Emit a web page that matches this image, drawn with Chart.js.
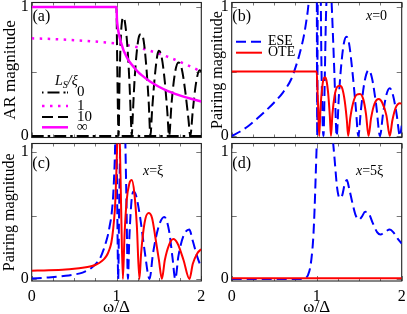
<!DOCTYPE html>
<html><head><meta charset="utf-8">
<script src="https://cdn.jsdelivr.net/npm/chart.js@4.4.1/dist/chart.umd.min.js"></script>
<style>
html,body{margin:0;padding:0;background:#fff;}
#wrap{position:relative;width:407px;height:314px;overflow:hidden;background:#fff;}
canvas{position:absolute;}
</style></head><body>
<div id="wrap">
<canvas id="ca" width="207" height="142" style="left:0;top:0"></canvas>
<canvas id="cb" width="207" height="142" style="left:200px;top:0"></canvas>
<canvas id="cc" width="207" height="174" style="left:0;top:140px"></canvas>
<canvas id="cd" width="207" height="174" style="left:200px;top:140px"></canvas>
</div>
<script>
// ---------- Panel (a): AR magnitude ----------
const omegaA_L0 = [0, 2];
const arL0 = [0, 0];
const omegaA_L1 = [0, 0.25, 0.5, 0.75, 1, 1.2, 1.4, 1.6, 1.8, 2];
const arL1 = [0.757, 0.752, 0.743, 0.732, 0.717, 0.695, 0.66, 0.615, 0.56, 0.5];
const omegaA_L10 = [0, 1, 1.005, 1.012, 1.02, 1.025, 1.035, 1.05, 1.065, 1.08, 1.1, 1.13, 1.155, 1.175, 1.18, 1.19, 1.21, 1.24, 1.27, 1.29, 1.32, 1.35, 1.38, 1.4, 1.42, 1.45, 1.48, 1.5, 1.53, 1.57, 1.6, 1.62, 1.65, 1.69, 1.73, 1.77, 1.81, 1.85, 1.87, 1.9, 1.94, 1.98, 2];
const arL10 = [1, 1, 0.75, 0.4, 0.08, 0, 0.4, 0.75, 0.89, 0.92, 0.88, 0.68, 0.38, 0.05, 0, 0.13, 0.4, 0.66, 0.78, 0.79, 0.74, 0.55, 0.26, 0, 0.2, 0.45, 0.62, 0.66, 0.62, 0.42, 0.18, 0, 0.26, 0.49, 0.57, 0.52, 0.35, 0.12, 0, 0.2, 0.42, 0.51, 0.5];
const omegaA_Inf = [0, 1, 1.005, 1.01, 1.02, 1.03, 1.04, 1.06, 1.08, 1.1, 1.13, 1.16, 1.2, 1.25, 1.3, 1.4, 1.5, 1.6, 1.7, 1.8, 1.9, 2];
const arInf = [1, 1, 0.905, 0.868, 0.82, 0.785, 0.755, 0.71, 0.67, 0.64, 0.6, 0.57, 0.537, 0.5, 0.47, 0.42, 0.382, 0.35, 0.325, 0.303, 0.285, 0.268];
const legendA = ['0', '1', '10', '\u221E'];

// ---------- Panel (b): x = 0 ----------
const omegaB_ESE = [0, 0.1, 0.2, 0.3, 0.4, 0.5, 0.6, 0.7, 0.75, 0.8, 0.85, 0.88, 0.9, 0.93, 0.96, 0.99, 1, 1.003, 1.006, 1.01, 1.015, 1.03, 1.045, 1.055, 1.07, 1.08, 1.095, 1.11, 1.14, 1.17, 1.19, 1.21, 1.235, 1.26, 1.29, 1.32, 1.35, 1.38, 1.42, 1.46, 1.49, 1.52, 1.56, 1.61, 1.65, 1.7, 1.745, 1.78, 1.82, 1.86, 1.9, 1.94, 1.98, 2];
const eseB = [0, 0.035, 0.08, 0.135, 0.195, 0.26, 0.335, 0.44, 0.53, 0.64, 0.78, 0.9, 1.0, 1.25, 1.6, 2.5, 1.6, 0.6, 0, 0.7, 1.5, 2.0, 1.3, 0.6, 0.1, 0, 0.45, 0.95, 1.25, 1.1, 0.8, 0.45, 0, 0.3, 0.56, 0.72, 0.77, 0.72, 0.5, 0.22, 0, 0.2, 0.41, 0.51, 0.45, 0.24, 0, 0.17, 0.32, 0.37, 0.31, 0.17, 0, 0.08];
const omegaB_OTE = [0, 1, 1.008, 1.018, 1.03, 1.045, 1.065, 1.08, 1.098, 1.115, 1.135, 1.155, 1.168, 1.185, 1.21, 1.24, 1.27, 1.3, 1.33, 1.355, 1.37, 1.395, 1.43, 1.47, 1.51, 1.55, 1.58, 1.61, 1.64, 1.68, 1.73, 1.77, 1.82, 1.86, 1.89, 1.93, 1.98, 2];
const oteB = [0.5, 0.5, 0.38, 0.2, 0, 0.22, 0.38, 0.44, 0.455, 0.43, 0.33, 0.15, 0, 0.17, 0.31, 0.38, 0.39, 0.37, 0.27, 0.12, 0, 0.14, 0.26, 0.32, 0.326, 0.28, 0.17, 0, 0.14, 0.25, 0.287, 0.26, 0.16, 0, 0.12, 0.22, 0.253, 0.25];
const seriesNames = ['ESE', 'OTE'];

// ---------- Panel (c): x = xi ----------
const omegaC_OTE = [0, 0.2, 0.4, 0.5, 0.6, 0.7, 0.75, 0.8, 0.85, 0.88, 0.9, 0.92, 0.94, 0.96, 0.98, 0.99, 1, 1.01, 1.025, 1.04, 1.055, 1.075, 1.095, 1.12, 1.15, 1.18, 1.21, 1.24, 1.27, 1.29, 1.33, 1.378, 1.42, 1.46, 1.5, 1.535, 1.57, 1.62, 1.67, 1.72, 1.79, 1.86, 1.9, 1.95, 2];
const oteC = [0.065, 0.068, 0.074, 0.08, 0.088, 0.1, 0.11, 0.128, 0.155, 0.18, 0.205, 0.24, 0.29, 0.39, 0.54, 0.68, 0.88, 1.1, 1.2, 1.05, 0.55, 0, 0.35, 0.62, 0.75, 0.78, 0.68, 0.42, 0, 0.2, 0.44, 0.52, 0.48, 0.32, 0.15, 0, 0.15, 0.27, 0.315, 0.28, 0.15, 0, 0.12, 0.2, 0.236];
const omegaC_ESE = [0, 0.2, 0.4, 0.5, 0.6, 0.7, 0.75, 0.8, 0.85, 0.88, 0.9, 0.92, 0.94, 0.96, 0.97, 0.98, 0.99, 1, 1.01, 1.02, 1.03, 1.045, 1.07, 1.1, 1.115, 1.135, 1.15, 1.175, 1.2, 1.23, 1.28, 1.33, 1.39, 1.43, 1.5, 1.563, 1.62, 1.66, 1.693, 1.73, 1.79, 1.858, 1.9, 1.95, 2];
const eseC = [0.003, 0.012, 0.025, 0.035, 0.05, 0.085, 0.115, 0.155, 0.235, 0.3, 0.35, 0.42, 0.5, 0.65, 0.78, 0.95, 1.2, 1.1, 0.5, 0, 0.5, 1.1, 1.5, 1.2, 0.7, 0, 0.3, 0.6, 0.69, 0.66, 0.48, 0.23, 0, 0.2, 0.42, 0.49, 0.38, 0.17, 0, 0.18, 0.34, 0.39, 0.3, 0.18, 0.087];

// ---------- Panel (d): x = 5 xi ----------
const omegaD_OTE = [0, 2];
const oteD = [0.005, 0.005];
const omegaD_ESE = [0, 0.8, 0.85, 0.88, 0.9, 0.92, 0.94, 0.96, 0.975, 0.99, 1, 1.05, 1.1, 1.15, 1.19, 1.21, 1.24, 1.27, 1.3, 1.33, 1.355, 1.38, 1.42, 1.46, 1.5, 1.53, 1.57, 1.61, 1.66, 1.71, 1.75, 1.8, 1.86, 1.9, 1.95, 2];
const eseD = [0, 0, 0.002, 0.012, 0.035, 0.08, 0.17, 0.33, 0.55, 0.85, 1.05, 1.5, 1.6, 1.4, 1.1, 0.95, 0.72, 0.64, 0.66, 0.75, 0.78, 0.72, 0.6, 0.5, 0.47, 0.49, 0.53, 0.52, 0.44, 0.37, 0.35, 0.37, 0.39, 0.37, 0.32, 0.28];

// tick labels
const xTickValues = [0, 1, 2];
const yTickValues = [0, 1];

const FONT = '"Liberation Serif", "Times New Roman", serif';
const BLUE = 'rgb(0,0,255)', RED = 'rgb(255,0,0)', MAG = 'rgb(255,0,255)', BLK = '#000';

const pts = (xs, ys) => xs.map((x, i) => ({x: x, y: ys[i]}));
function ds(data, color, width, dash) {
  return {data: data, borderColor: color, backgroundColor: color, borderWidth: width,
    borderDash: dash || [], pointRadius: 0, pointHoverRadius: 0, showLine: true, fill: false,
    cubicInterpolationMode: 'monotone', borderCapStyle: 'butt', borderJoinStyle: 'round'};
}

function line(ctx, x1, y1, x2, y2) { ctx.beginPath(); ctx.moveTo(x1, y1); ctx.lineTo(x2, y2); ctx.stroke(); }
function sample(ctx, x1, x2, y, color, width, dash) {
  ctx.save(); ctx.strokeStyle = color; ctx.lineWidth = width; ctx.setLineDash(dash || []);
  line(ctx, x1, y, x2, y); ctx.restore();
}
function rich(ctx, x, y, parts, baseline) {
  ctx.save(); ctx.textBaseline = baseline || 'alphabetic'; ctx.fillStyle = '#000';
  let cx = x;
  for (const p of parts) {
    ctx.font = (p.i ? 'italic ' : '') + (p.s || 13) + 'px ' + FONT;
    ctx.fillText(p.t, cx, y + (p.dy || 0));
    cx += ctx.measureText(p.t).width;
  }
  ctx.restore();
}

function framePlugin(extra) {
  return {
    id: 'frame',
    beforeDatasetsDraw(chart) {
      const ctx = chart.ctx, a = chart.chartArea, x = chart.scales.x, y = chart.scales.y;
      ctx.save();
      ctx.strokeStyle = '#777'; ctx.lineWidth = 1;
      for (let k = 0; k <= 8; k++) {
        const v = k * 0.25;
        const px = Math.round(x.getPixelForValue(v)) + 0.5;
        const L = (k % 4 === 0) ? 5 : 3;
        line(ctx, px, a.bottom, px, a.bottom - L);
        line(ctx, px, a.top, px, a.top + L);
      }
      for (const v of [0, 0.5, 1]) {
        const py = Math.round(y.getPixelForValue(v)) + 0.5;
        line(ctx, a.left, py, a.left + 5, py);
        line(ctx, a.right, py, a.right - 5, py);
      }
      ctx.strokeStyle = '#222'; ctx.lineWidth = 1.1;
      ctx.strokeRect(a.left, a.top, a.right - a.left, a.bottom - a.top);
      ctx.restore();
    },
    afterDraw(chart) { extra(chart.ctx); }
  };
}

function yScale(min, max, title, tsize, tpad) {
  return {
    type: 'linear', min: min, max: max,
    afterBuildTicks: s => { s.ticks = yTickValues.map(v => ({value: v})); },
    afterFit: s => { s.width = 31.7; s.paddingTop = 0; s.paddingBottom = 0; },
    grid: {display: false, drawTicks: false}, border: {display: false},
    ticks: {padding: 3, color: '#000', font: {family: FONT, size: 16}, callback: v => String(v)},
    title: {display: !!title, text: title || '', color: '#000', font: {family: FONT, size: tsize || 16}, padding: {top: tpad || 0, bottom: 0}}
  };
}
function xScale(show) {
  return {
    type: 'linear', min: 0, max: 2, display: show,
    afterBuildTicks: s => { s.ticks = xTickValues.map(v => ({value: v})); },
    afterFit: s => { if (show) s.height = 33; s.paddingLeft = 0; s.paddingRight = 0; },
    grid: {display: false, drawTicks: false}, border: {display: false},
    ticks: {padding: 6, color: '#000', maxRotation: 0, autoSkip: false, font: {family: FONT, size: 16}, callback: v => String(v)},
    title: {display: show, text: '\u03C9/\u0394', color: '#000', font: {family: FONT, size: 17, lineHeight: 0.8}, padding: {top: 0, bottom: 0}}
  };
}

function makeChart(id, datasets, padding, xs, ys, extra) {
  return new Chart(document.getElementById(id), {
    type: 'scatter',
    data: {datasets: datasets},
    options: {
      responsive: false, animation: false, devicePixelRatio: 1,
      layout: {padding: padding},
      plugins: {legend: {display: false}, tooltip: {enabled: false}},
      events: [],
      scales: {x: xs, y: ys}
    },
    plugins: [framePlugin(extra)]
  });
}

// Panel (a)
makeChart('ca', [
  ds(pts(omegaA_Inf, arInf), MAG, 2.5),
  ds(pts(omegaA_L10, arL10), BLK, 2, [11, 5]),
  ds(pts(omegaA_L1, arL1), MAG, 2.5, [2.5, 5.5]),
  ds(pts(omegaA_L0, arL0), BLK, 2, [12, 4, 2.5, 4])
], {left: 0, top: 2.5, right: 5.7, bottom: 4.5}, xScale(false), yScale(-0.0116, 1.035, 'AR magnitude', 17, 0.6),
ctx => {
  rich(ctx, 32.5, 21, [{t: '(a)', s: 16}]);
  rich(ctx, 55, 84.5, [{t: 'L', i: 1, s: 14}, {t: 'S', i: 1, s: 10, dy: 3}, {t: '/\u03BE', i: 1, s: 14}]);
  const rows = [92.5, 106, 117, 127.3];
  sample(ctx, 42, 68, rows[0], BLK, 2, [1.5, 4, 12, 4, 2]);
  sample(ctx, 42, 68, rows[1], MAG, 2.5, [2.5, 5.5]);
  sample(ctx, 42, 68, rows[2], BLK, 2, [11, 5]);
  sample(ctx, 42, 68, rows[3], MAG, 2.5);
  legendA.forEach((t, i) => rich(ctx, 77, rows[i], [{t: t, s: 15}], 'middle'));
});

// Panel (b)
makeChart('cb', [
  ds(pts(omegaB_OTE, oteB), RED, 2),
  ds(pts(omegaB_ESE, eseB), BLUE, 2, [10, 5])
], {left: 0, top: 2.5, right: 5.3, bottom: 4.5}, xScale(false), yScale(-0.0116, 1.035, 'Pairing magnitude', 16, 7.9),
ctx => {
  rich(ctx, 32.3, 21, [{t: '(b)', s: 16}]);
  rich(ctx, 166, 19.5, [{t: 'x', i: 1, s: 14}, {t: '=0', s: 14}]);
  sample(ctx, 36, 62, 41.7, BLUE, 2, [10, 5]);
  sample(ctx, 36, 62, 52.7, RED, 2);
  rich(ctx, 68, 41.7, [{t: seriesNames[0], s: 14}], 'middle');
  rich(ctx, 68, 52.7, [{t: seriesNames[1], s: 14}], 'middle');
});

// Panel (c)
makeChart('cc', [
  ds(pts(omegaC_OTE, oteC), RED, 2),
  ds(pts(omegaC_ESE, eseC), BLUE, 2, [10, 5])
], {left: 0, top: 3.5, right: 5.7, bottom: 0}, xScale(true), yScale(-0.016, 1.069, 'Pairing magnitude', 16, 0),
ctx => {
  rich(ctx, 32.3, 28, [{t: '(c)', s: 16}]);
  rich(ctx, 143, 35, [{t: 'x', i: 1, s: 14}, {t: '=\u03BE', s: 14}]);
});

// Panel (d)
makeChart('cd', [
  ds(pts(omegaD_OTE, oteD), RED, 2),
  ds(pts(omegaD_ESE, eseD), BLUE, 2, [10, 5])
], {left: 0, top: 3.5, right: 5.3, bottom: 0}, xScale(true), yScale(-0.016, 1.069, '', 16, 0),
ctx => {
  rich(ctx, 32.3, 28, [{t: '(d)', s: 16}]);
  rich(ctx, 156, 35, [{t: 'x', i: 1, s: 14}, {t: '=5\u03BE', s: 14}]);
});
</script>
</body></html>
